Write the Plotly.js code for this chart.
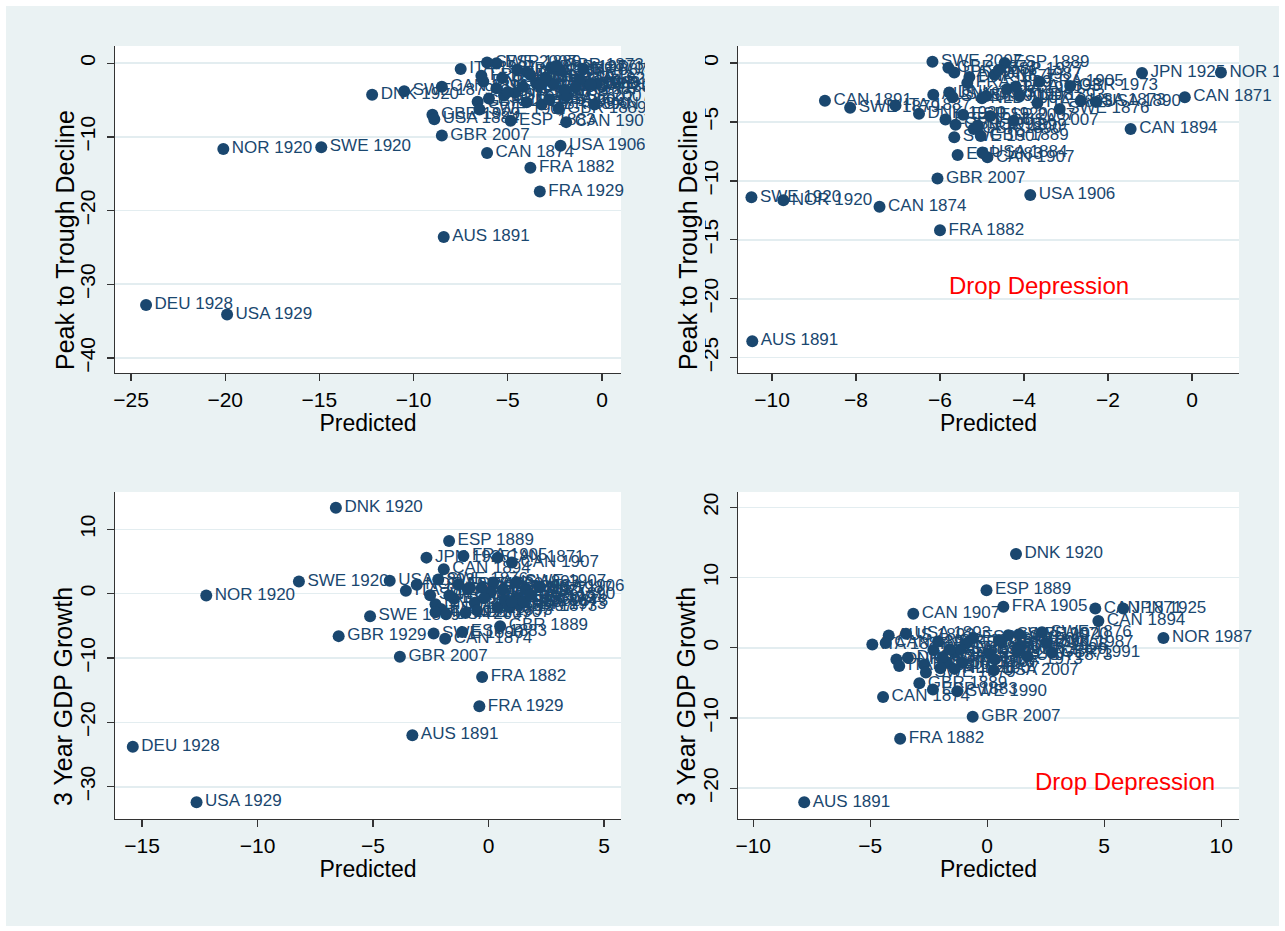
<!DOCTYPE html>
<html>
<head>
<meta charset="utf-8">
<script src="https://cdn.plot.ly/plotly-3.0.1.min.js"></script>
<style>
  html, body { margin: 0; padding: 0; background: #ffffff; }
  #chart { width: 1285px; height: 931px; }
</style>
</head>
<body>
<div id="chart"></div>
<script>
// Banking-crisis episodes (country code + start year)
const episodes = [
  'AUS 1891','AUS 1893','CAN 1871','CAN 1874','CAN 1891','CAN 1894','CAN 1907','DEU 1928',
  'DNK 1877','DNK 1885','DNK 1908','DNK 1920','DNK 1987','ESP 1883','ESP 1889','ESP 1913',
  'ESP 1920','ESP 1977','ESP 2007','FRA 1882','FRA 1889','FRA 1905','FRA 1929','GBR 1873',
  'GBR 1889','GBR 1890','GBR 1929','GBR 1973','GBR 1991','GBR 2007','ITA 1887','ITA 1893',
  'ITA 1907','ITA 1921','ITA 1930','JPN 1925','NLD 1893','NLD 1907','NOR 1899','NOR 1920',
  'NOR 1987','SWE 1876','SWE 1879','SWE 1907','SWE 1920','SWE 1990','SWE 2007','USA 1873',
  'USA 1884','USA 1890','USA 1893','USA 1906','USA 1929','USA 2007'
];

// Peak to trough decline of output (%)
const decline = [
  -23.6, -2.7, -2.9, -12.2, -3.2, -5.6, -8.0, -32.8,
  -1.2, -2.5, -2.8, -4.3, -1.0, -7.8, 0.0, -4.8,
  -4.4, -0.6, -4.5, -14.2, -1.7, -1.6, -17.4, -0.4,
  -6.2, -5.6, -7.0, -1.95, -5.25, -9.8, -3.6, -3.4,
  -0.8, -2.2, -4.0, -0.85, -2.8, -3.0, -5.3, -11.65,
  -0.8, -3.9, -3.8, -6.3, -11.4, -2.9, 0.1, -3.2,
  -7.6, -3.3, -2.0, -11.2, -34.1, -4.9
];

// Predicted decline, full sample
const predDecline = [
  -8.4, -3.5, -0.7, -6.1, -8.5, -0.4, -1.9, -24.2,
  -4.0, -6.3, -2.6, -12.2, -2.2, -4.85, -5.6, -6.0,
  -5.2, -2.7, -1.9, -3.8, -6.4, -3.8, -3.3, -2.45,
  -2.3, -3.2, -9.0, -3.0, -6.6, -8.5, -2.0, -5.6,
  -7.5, -1.2, -4.6, -4.5, -0.3, -3.3, -4.0, -20.1,
  -1.0, -5.0, -10.5, -6.5, -14.9, -0.6, -6.1, -4.2,
  -8.9, -1.4, -5.3, -2.2, -19.9, -2.8
];

// Predicted decline, Great Depression episodes dropped (null = not in sample)
const predDeclineNoDep = [
  -10.47, -6.16, -0.17, -7.44, -8.74, -1.46, -4.87, null,
  -5.3, -5.78, -4.9, -6.5, -4.7, -5.58, -4.46, -5.87,
  -5.45, -4.6, -4.8, -6.0, -5.35, -3.63, null, -5.8,
  -5.03, -5.2, null, -2.9, -5.63, -6.06, -7.06, -3.68,
  -5.66, -4.4, null, -1.19, -4.1, -5.0, -5.1, -9.73,
  0.69, -3.15, -8.14, -5.66, -10.49, -5.7, -6.18, -2.65,
  -4.99, -2.29, -4.2, -3.85, null, -4.25
];

// Three-year GDP growth after the crisis (%)
const growth = [
  -22.0, 1.75, 5.6, -7.0, 0.7, 3.8, 4.85, -23.8,
  -1.66, -1.4, 0.24, 13.35, 0.7, -5.95, 8.2, -2.4,
  1.4, 0.6, -0.8, -12.95, -0.3, 5.85, -17.5, -2.1,
  -5.05, 0.9, -6.6, -1.66, -0.7, -9.8, 0.47, -2.6,
  -2.1, -2.9, -1.0, 5.6, -0.7, -3.0, 0.9, -0.3,
  1.4, 2.2, -3.5, 1.8, 1.9, -6.2, -0.24, -1.2,
  -1.3, -0.2, 2.0, 1.1, -32.4, -3.2
];

// Predicted growth, full sample
const predGrowth = [
  -3.3, 0.2, 0.39, -1.88, -0.9, -1.94, 1.01, -15.4,
  -2.3, -0.6, 0.1, -6.61, 1.6, -1.14, -1.71, -2.07,
  -1.3, 0.6, -1.5, -0.28, -1.7, -1.09, -0.40, 0.9,
  0.5, -0.3, -6.49, 1.3, 1.2, -3.84, -3.58, -0.5,
  0.4, -2.3, 0.7, -2.69, -0.2, -1.0, -0.8, -12.22,
  -3.11, -2.18, -5.13, 1.2, -8.21, -2.38, -2.53, 1.5,
  1.0, 1.8, -4.28, 2.2, -12.64, -1.84
];

// Predicted growth, Great Depression episodes dropped
const predGrowthNoDep = [
  -7.82, -4.21, 4.62, -4.45, -4.34, 4.75, -3.16, null,
  -3.88, -3.39, 1.44, 1.23, 2.54, -2.32, -0.03, -2.7,
  -0.6, -0.9, 0.1, -3.72, -2.3, 0.69, null, -1.72,
  -2.9, 0.6, null, 0.33, 2.78, -0.62, -4.91, -3.76,
  -1.06, -2.0, null, 5.81, -1.39, -1.4, -2.1, 1.31,
  7.53, 2.34, -2.62, 0.9, 1.36, -1.28, -1.15, 1.72,
  -1.9, -1.6, -3.47, 0.5, null, 0.28
];

const xTitle = 'Predicted';
const declineTitle = 'Peak to Trough Decline';
const growthTitle = '3 Year GDP Growth';
const noteText = 'Drop Depression';

const W = 1285, H = 931;
const FONT = '"Liberation Sans", Arial, sans-serif';
const NAVY = '#1a476f';
const BG = '#eaf2f3';
const px = v => v / W;
const py = v => 1 - v / H;

function keep(xs, ys) {
  const out = {x: [], y: [], t: []};
  xs.forEach((v, i) => {
    if (v !== null && ys[i] !== null) { out.x.push(v); out.y.push(ys[i]); out.t.push(episodes[i]); }
  });
  return out;
}

function scatter(xs, ys, xa, ya) {
  const d = keep(xs, ys);
  return {
    type: 'scatter', mode: 'markers+text',
    x: d.x, y: d.y, text: d.t,
    xaxis: xa, yaxis: ya,
    textposition: 'middle right',
    textfont: {family: FONT, size: 17, color: NAVY},
    marker: {color: NAVY, size: 12, line: {width: 0}},
    cliponaxis: false, hoverinfo: 'skip', showlegend: false
  };
}

const traces = [
  scatter(predDecline, decline, 'x', 'y'),
  scatter(predDeclineNoDep, decline, 'x2', 'y2'),
  scatter(predGrowth, growth, 'x3', 'y3'),
  scatter(predGrowthNoDep, growth, 'x4', 'y4')
];

const lineCol = '#333333';
function xAxis(domain, range, dtick, anchor) {
  return {
    domain: domain, range: range, dtick: dtick, tick0: 0, anchor: anchor,
    showline: true, linecolor: lineCol, linewidth: 1.3,
    ticks: 'outside', ticklen: 7, tickwidth: 1.3, tickcolor: lineCol,
    tickfont: {family: FONT, size: 21, color: '#000'},
    showgrid: false, zeroline: false, fixedrange: true,
    title: {text: xTitle, font: {family: FONT, size: 23, color: '#000'}, standoff: 4}
  };
}
function yAxis(domain, range, dtick, anchor) {
  return {
    domain: domain, range: range, dtick: dtick, tick0: 0, anchor: anchor,
    showline: true, linecolor: lineCol, linewidth: 1.3,
    ticks: 'outside', ticklen: 7, tickwidth: 1.3, tickcolor: lineCol,
    tickangle: -90, ticklabelstandoff: 3,
    tickfont: {family: FONT, size: 21, color: '#000'},
    showgrid: true, gridcolor: '#e3edf0', gridwidth: 1.6,
    zeroline: false, fixedrange: true
  };
}

// y-axis titles, set as rotated text beside each panel
function yTitle(text, xPx, yPx) {
  return {xref: 'paper', yref: 'paper', x: px(xPx), y: py(yPx), text: text,
          textangle: -90, showarrow: false, xanchor: 'center', yanchor: 'middle',
          font: {family: FONT, size: 25, color: '#000'}};
}

const leftX = [px(115), px(621)];
const rightX = [px(738), px(1239)];
const topY = [py(373), py(46)];
const botY = [py(819), py(492)];

const layout = {
  width: W, height: H,
  margin: {l: 0, r: 0, t: 0, b: 0},
  paper_bgcolor: BG, plot_bgcolor: '#ffffff',
  showlegend: false,
  xaxis: xAxis(leftX, [-25.85, 1.01], 5, 'y'),
  yaxis: yAxis(topY, [-42.04, 2.33], 10, 'x'),
  xaxis2: xAxis(rightX, [-10.81, 1.12], 2, 'y2'),
  yaxis2: yAxis(topY, [-26.3, 1.44], 5, 'x2'),
  xaxis3: xAxis(leftX, [-16.17, 5.73], 5, 'y3'),
  yaxis3: yAxis(botY, [-35.02, 15.8], 10, 'x3'),
  xaxis4: xAxis(rightX, [-10.65, 10.76], 5, 'y4'),
  yaxis4: yAxis(botY, [-24.37, 22.18], 10, 'x4'),
  annotations: [
    yTitle(declineTitle, 65, 240),
    yTitle(declineTitle, 688, 240),
    yTitle(growthTitle, 63, 697),
    yTitle(growthTitle, 686, 697),
    {xref: 'x2', yref: 'y2', x: -3.65, y: -18.9, text: noteText, showarrow: false,
     font: {family: FONT, size: 24, color: '#ff0000'}},
    {xref: 'x4', yref: 'y4', x: 5.88, y: -19.0, text: noteText, showarrow: false,
     font: {family: FONT, size: 24, color: '#ff0000'}}
  ],
  shapes: [
    // labels spilling past the top-left panel are cut short of the next panel
    {type: 'rect', xref: 'paper', yref: 'paper', layer: 'below',
     x0: px(645), x1: px(705), y0: py(380), y1: py(40), fillcolor: BG, line: {width: 0}},
    // white frame round the graph region
    {type: 'rect', xref: 'paper', yref: 'paper', layer: 'above',
     x0: 0, x1: px(6), y0: 0, y1: 1, fillcolor: '#ffffff', line: {width: 0}},
    {type: 'rect', xref: 'paper', yref: 'paper', layer: 'above',
     x0: px(1279), x1: 1, y0: 0, y1: 1, fillcolor: '#ffffff', line: {width: 0}},
    {type: 'rect', xref: 'paper', yref: 'paper', layer: 'above',
     x0: 0, x1: 1, y0: py(6), y1: 1, fillcolor: '#ffffff', line: {width: 0}},
    {type: 'rect', xref: 'paper', yref: 'paper', layer: 'above',
     x0: 0, x1: 1, y0: 0, y1: py(926), fillcolor: '#ffffff', line: {width: 0}}
  ]
};

Plotly.newPlot('chart', traces, layout, {staticPlot: true, displayModeBar: false}).then(gd => {
  // mask for overflowing point labels of the first panel, drawn above the traces
  // but below the axis titles of the neighbouring panel
  const mask = document.createElementNS('http://www.w3.org/2000/svg', 'rect');
  mask.setAttribute('x', 645); mask.setAttribute('y', 40);
  mask.setAttribute('width', 60); mask.setAttribute('height', 340);
  mask.setAttribute('fill', BG);
  const main = gd.querySelector('.main-svg');
  const infoLayer = gd.querySelector('.infolayer');
  infoLayer.parentNode.insertBefore(mask, infoLayer);
});
</script>
</body>
</html>
